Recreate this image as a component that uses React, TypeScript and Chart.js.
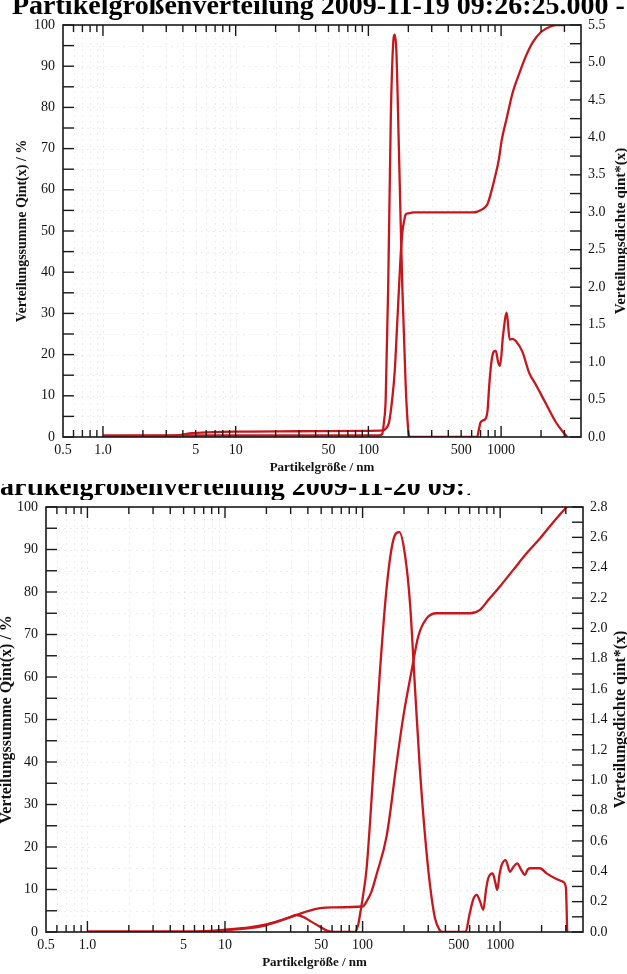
import React, { useEffect, useRef } from "react";
import { Chart, registerables } from "chart.js";

Chart.register(...registerables);

// ---------------- data ----------------
// upper measurement: cumulative distribution Qint(x) in %
const topSumSizes = [1, 3.5, 4, 4.5, 6, 10, 30, 100, 128, 135, 143, 151, 158, 165, 170, 175, 180, 186, 191, 200, 220, 400, 620, 662, 725, 788, 835, 885, 960, 1010, 1110, 1220, 1380, 1540, 1730, 2000, 2380, 2600, 3000];
const topSumValues = [0.2, 0.3, 0.6, 0.9, 1.1, 1.3, 1.4, 1.5, 1.6, 2.0, 3.5, 9, 16, 27.8, 36, 44, 49.5, 52.5, 54, 54.3, 54.5, 54.5, 54.5, 54.7, 55.3, 56.5, 59, 62.2, 67.2, 72, 77.8, 83.5, 88.5, 92.5, 95.8, 98.3, 99.7, 100, 100];
// upper measurement: density qint*(x)
const topDensSizes = [1, 120, 127, 131, 135, 141, 147.5, 153.6, 158, 162.5, 170, 180, 191, 200, 206, 660, 680, 703, 760, 790, 815, 845, 880, 912, 950, 982, 1035, 1103, 1160, 1220, 1290, 1446, 1625, 1824, 2168, 2580, 2980, 3155];
const topDensValues = [0.02, 0.02, 0.04, 0.2, 0.5, 2.0, 4.25, 5.24, 5.37, 5.15, 3.81, 2.02, 0.69, 0.08, 0, 0, 0.1, 0.2, 0.24, 0.35, 0.7, 1.0, 1.14, 1.15, 1.0, 0.95, 1.36, 1.66, 1.3, 1.31, 1.28, 1.14, 0.86, 0.7, 0.45, 0.2, 0.05, 0];

// lower measurement: cumulative distribution Qint(x) in %
const botSumSizes = [1, 5, 8, 10, 15, 18, 23.8, 30, 33, 40, 49, 60, 100, 107, 116, 126, 150, 177, 198, 227, 254, 292, 345, 603, 713, 819, 996, 1245, 1557, 1944, 2430, 3040];
const botSumValues = [0.1, 0.1, 0.2, 0.4, 0.9, 1.25, 2.4, 3.5, 4.0, 4.9, 5.6, 5.8, 6.0, 7.2, 9.5, 13.4, 22.8, 39.9, 50.8, 61.4, 69.6, 73.8, 75, 75, 75.8, 78.1, 81.3, 85.2, 89.1, 92.6, 96.4, 100];
// lower measurement: density qint*(x)
const botDensSizes = [1, 6, 8, 10, 15, 20, 25, 30, 33, 37, 42, 49, 55, 62, 88, 93, 96, 100, 107, 120, 134, 150, 167, 185, 203, 221, 240, 261, 284, 309, 336, 365, 380, 560, 600, 640, 675, 715, 754, 790, 819, 881, 920, 952, 990, 1025, 1096, 1178, 1250, 1331, 1420, 1514, 1580, 1645, 1944, 2176, 2500, 2873, 3006, 3070];
const botDensValues = [0.003, 0.003, 0.008, 0.015, 0.03, 0.05, 0.075, 0.1, 0.112, 0.1, 0.07, 0.035, 0.01, 0, 0, 0.05, 0.12, 0.22, 0.42, 1.07, 1.73, 2.28, 2.58, 2.635, 2.49, 2.17, 1.62, 1.07, 0.64, 0.31, 0.09, 0.01, 0, 0, 0.12, 0.22, 0.245, 0.2, 0.146, 0.28, 0.354, 0.386, 0.33, 0.277, 0.38, 0.44, 0.474, 0.397, 0.43, 0.452, 0.41, 0.376, 0.41, 0.42, 0.42, 0.386, 0.354, 0.33, 0.29, 0];

// ---------------- ticks & texts ----------------
const xLabelValues = [0.5, 1, 5, 10, 50, 100, 500, 1000];
const xLabelTexts = ["0.5", "1.0", "5", "10", "50", "100", "500", "1000"];
const xMajorTicks = [1, 10, 100, 1000];
const xMinorTicks = [0.6, 0.7, 0.8, 0.9, 2, 3, 4, 5, 6, 7, 8, 9, 20, 30, 40, 50, 60, 70, 80, 90, 200, 300, 400, 500, 600, 700, 800, 900, 2000, 3000];
const leftLabelValues = [0, 10, 20, 30, 40, 50, 60, 70, 80, 90, 100];
const leftMinorTicks = [5, 15, 25, 35, 45, 55, 65, 75, 85, 95];
const topRightLabels = [0, 0.5, 1, 1.5, 2, 2.5, 3, 3.5, 4, 4.5, 5, 5.5];
const topRightMinor = [0.25, 0.75, 1.25, 1.75, 2.25, 2.75, 3.25, 3.75, 4.25, 4.75, 5.25];
const botRightLabels = [0, 0.2, 0.4, 0.6, 0.8, 1.0, 1.2, 1.4, 1.6, 1.8, 2.0, 2.2, 2.4, 2.6, 2.8];
const botRightMinor = [0.1, 0.3, 0.5, 0.7, 0.9, 1.1, 1.3, 1.5, 1.7, 1.9, 2.1, 2.3, 2.5, 2.7];

const xTitle = "Partikelgröße / nm";
const leftTitle = "Verteilungssumme Qint(x) / %";
const rightTitle = "Verteilungsdichte qint*(x)";
const topHeading = "Partikelgrößenverteilung 2009-11-19 09:26:25.000 - 0";
const botHeading = "Partikelgrößenverteilung 2009-11-20 09:1";

const RED = "#c8161d";
const SERIF = '"Liberation Serif", "Times New Roman", serif';

type PanelCfg = {
  top: number;
  height: number;
  area: { left: number; right: number; top: number; bottom: number };
  rightMax: number;
  rightLabels: number[];
  rightMinor: number[];
  sumSizes: number[];
  sumValues: number[];
  densSizes: number[];
  densValues: number[];
  leftTitleX: number;
  rightTitleX: number;
  leftTitleFont: number;
  rightTitleFont: number;
  heading: string;
  headingX: number;
  headingY: number;
  headingClip: { x: number; y: number; w: number; h: number };
};

function makeDecor(cfg: PanelCfg) {
  return {
    id: "decor",
    beforeDatasetsDraw(chart: any) {
      const { ctx, chartArea: a, scales } = chart;
      ctx.save();
      ctx.strokeStyle = "rgba(0,0,0,0.07)";
      ctx.lineWidth = 1;
      ctx.setLineDash([2, 4]);
      for (const v of [...leftLabelValues, ...leftMinorTicks]) {
        const y = Math.round(scales.y.getPixelForValue(v)) + 0.5;
        ctx.beginPath();
        ctx.moveTo(a.left, y);
        ctx.lineTo(a.right, y);
        ctx.stroke();
      }
      for (const v of [...xMajorTicks, ...xMinorTicks]) {
        const x = Math.round(scales.x.getPixelForValue(v)) + 0.5;
        ctx.beginPath();
        ctx.moveTo(x, a.top);
        ctx.lineTo(x, a.bottom);
        ctx.stroke();
      }
      ctx.restore();
    },
    afterDatasetsDraw(chart: any) {
      const { ctx, chartArea: a, scales } = chart;
      ctx.save();
      ctx.strokeStyle = "#1a1a1a";
      ctx.fillStyle = "#111";
      // frame
      ctx.lineWidth = 1.6;
      ctx.strokeRect(a.left, a.top, a.right - a.left, a.bottom - a.top);
      ctx.lineWidth = 1.4;
      const line = (x1: number, y1: number, x2: number, y2: number) => {
        ctx.beginPath();
        ctx.moveTo(x1, y1);
        ctx.lineTo(x2, y2);
        ctx.stroke();
      };
      // x ticks (inward, bottom and top)
      for (const v of xMajorTicks) {
        const x = scales.x.getPixelForValue(v);
        line(x, a.bottom, x, a.bottom - 11);
        line(x, a.top, x, a.top + 11);
      }
      for (const v of xMinorTicks) {
        const x = scales.x.getPixelForValue(v);
        line(x, a.bottom, x, a.bottom - 7);
        line(x, a.top, x, a.top + 7);
      }
      // left ticks
      for (const v of [...leftLabelValues, ...leftMinorTicks]) {
        const y = scales.y.getPixelForValue(v);
        line(a.left, y, a.left + 11, y);
      }
      // right ticks
      for (const v of [...cfg.rightLabels, ...cfg.rightMinor]) {
        const y = scales.y2.getPixelForValue(v);
        line(a.right, y, a.right - 11, y);
      }
      // tick labels
      ctx.font = `14px ${SERIF}`;
      ctx.textBaseline = "middle";
      ctx.textAlign = "right";
      for (const v of leftLabelValues) {
        ctx.fillText(String(v), a.left - 8, scales.y.getPixelForValue(v));
      }
      ctx.textAlign = "left";
      for (const v of cfg.rightLabels) {
        ctx.fillText(v.toFixed(1), a.right + 7, scales.y2.getPixelForValue(v));
      }
      ctx.textAlign = "center";
      xLabelValues.forEach((v, i) => {
        ctx.fillText(xLabelTexts[i], scales.x.getPixelForValue(v), a.bottom + 13);
      });
      // axis titles
      ctx.font = `bold 13px ${SERIF}`;
      ctx.fillText(xTitle, (a.left + a.right) / 2, a.bottom + 31);
      const midY = (a.top + a.bottom) / 2;
      const vt: [number, string, number][] = [
        [cfg.leftTitleX, leftTitle, cfg.leftTitleFont],
        [cfg.rightTitleX, rightTitle, cfg.rightTitleFont],
      ];
      for (const [tx, txt, fs] of vt) {
        ctx.save();
        ctx.font = `bold ${fs}px ${SERIF}`;
        ctx.translate(tx, midY);
        ctx.rotate(-Math.PI / 2);
        ctx.fillText(txt, 0, 0);
        ctx.restore();
      }
      // cut-off page heading
      ctx.save();
      const c = cfg.headingClip;
      ctx.beginPath();
      ctx.rect(c.x, c.y, c.w, c.h);
      ctx.clip();
      ctx.font = `bold 28px ${SERIF}`;
      ctx.textAlign = "left";
      ctx.textBaseline = "alphabetic";
      ctx.fillStyle = "#000";
      ctx.fillText(cfg.heading, cfg.headingX, cfg.headingY);
      ctx.restore();
      ctx.restore();
    },
  };
}

function Panel({ cfg }: { cfg: PanelCfg }) {
  const ref = useRef<HTMLCanvasElement>(null);
  useEffect(() => {
    const canvas = ref.current;
    if (!canvas) return;
    const a = cfg.area;
    const chart = new Chart(canvas, {
      type: "line",
      data: {
        datasets: [
          {
            label: "Qint(x)",
            data: cfg.sumSizes.map((s, i) => ({ x: s, y: cfg.sumValues[i] })),
            yAxisID: "y",
            borderColor: RED,
            borderWidth: 2.3,
            pointRadius: 0,
            fill: false,
            cubicInterpolationMode: "monotone",
          },
          {
            label: "qint*(x)",
            data: cfg.densSizes.map((s, i) => ({ x: s, y: cfg.densValues[i] })),
            yAxisID: "y2",
            borderColor: RED,
            borderWidth: 2.3,
            pointRadius: 0,
            fill: false,
            cubicInterpolationMode: "monotone",
          },
        ],
      },
      options: {
        responsive: false,
        animation: false,
        layout: {
          padding: { left: a.left, right: 627 - a.right, top: a.top, bottom: cfg.height - a.bottom },
        },
        plugins: { legend: { display: false }, tooltip: { enabled: false }, title: { display: false } },
        scales: {
          x: { type: "logarithmic", min: 0.5, max: 4000, display: false },
          y: { type: "linear", min: 0, max: 100, display: false },
          y2: { type: "linear", min: 0, max: cfg.rightMax, display: false },
        },
      } as any,
      plugins: [makeDecor(cfg)],
    });
    return () => chart.destroy();
  }, [cfg]);
  return (
    <canvas
      ref={ref}
      width={627}
      height={cfg.height}
      style={{ position: "absolute", left: 0, top: cfg.top, width: 627, height: cfg.height }}
    />
  );
}

const topCfg: PanelCfg = {
  top: 0,
  height: 475,
  area: { left: 63, right: 581, top: 25, bottom: 437 },
  rightMax: 5.5,
  rightLabels: topRightLabels,
  rightMinor: topRightMinor,
  sumSizes: topSumSizes,
  sumValues: topSumValues,
  densSizes: topDensSizes,
  densValues: topDensValues,
  leftTitleX: 22,
  rightTitleX: 621,
  leftTitleFont: 14,
  rightTitleFont: 15,
  heading: topHeading,
  headingX: 12,
  headingY: 14,
  headingClip: { x: 0, y: 0, w: 627, h: 24 },
};

const botCfg: PanelCfg = {
  top: 475,
  height: 499,
  area: { left: 46, right: 583, top: 32, bottom: 457 },
  rightMax: 2.8,
  rightLabels: botRightLabels,
  rightMinor: botRightMinor,
  sumSizes: botSumSizes,
  sumValues: botSumValues,
  densSizes: botDensSizes,
  densValues: botDensValues,
  leftTitleX: 7,
  rightTitleX: 621,
  leftTitleFont: 16,
  rightTitleFont: 16,
  heading: botHeading,
  headingX: -17,
  headingY: 20,
  headingClip: { x: 0, y: 9, w: 470, h: 16 },
};

export default function App() {
  return (
    <div style={{ position: "absolute", left: 0, top: 0, width: 627, height: 974, background: "#fff", overflow: "hidden" }}>
      <Panel cfg={topCfg} />
      <Panel cfg={botCfg} />
    </div>
  );
}
